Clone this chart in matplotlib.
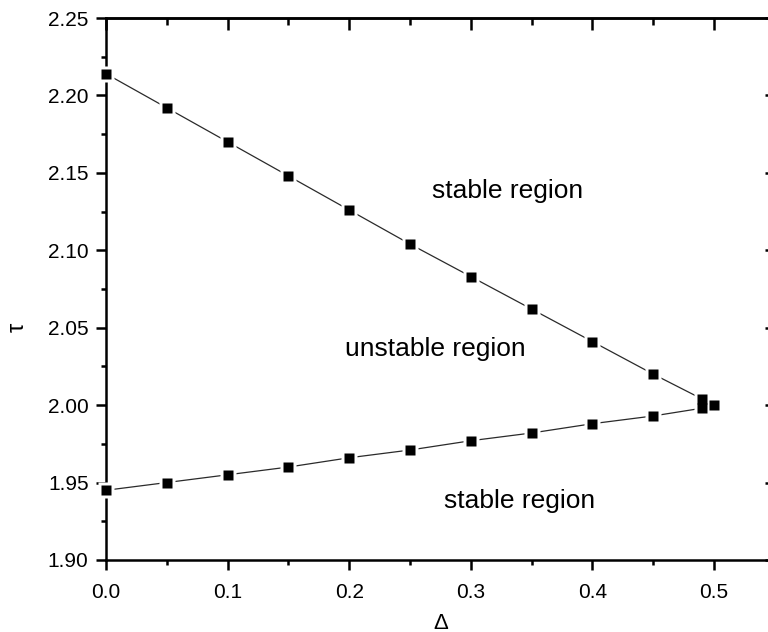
import numpy as np
import matplotlib
matplotlib.use('Agg')
import matplotlib.pyplot as plt
from matplotlib.ticker import MultipleLocator, FormatStrFormatter

plt.rcParams['font.family'] = ['Liberation Sans', 'DejaVu Sans']

# upper boundary (stable above / unstable below)
delta_up = [0.0, 0.05, 0.10, 0.15, 0.20, 0.25, 0.30, 0.35, 0.40, 0.45, 0.49]
tau_up = [2.214, 2.192, 2.170, 2.148, 2.126, 2.104, 2.083, 2.062, 2.041, 2.020, 2.004]

# lower boundary
delta_low = [0.0, 0.05, 0.10, 0.15, 0.20, 0.25, 0.30, 0.35, 0.40, 0.45, 0.49]
tau_low = [1.945, 1.950, 1.955, 1.960, 1.966, 1.971, 1.977, 1.982, 1.988, 1.993, 1.998]

# end point
delta_end = [0.50]
tau_end = [2.000]

fig = plt.figure(figsize=(7.68, 6.32), dpi=100)
ax = fig.add_axes([0.138, 0.114, 0.871, 0.8575])

for d, t in [(delta_up, tau_up), (delta_low, tau_low)]:
    ax.plot(d, t, color='#2a2a2a', lw=0.9, zorder=2)

# white squares under the markers leave a gap in the line
all_d = delta_up + delta_low + delta_end
all_t = tau_up + tau_low + tau_end
ax.plot(all_d, all_t, ls='none', marker='s', ms=12, mfc='white', mec='none', zorder=3, clip_on=False)
ax.plot(all_d, all_t, ls='none', marker='s', ms=7.4, mfc='black', mec='none', zorder=4, clip_on=False)

ax.text(0.33, 2.138, 'stable region', fontsize=19, ha='center', va='center')
ax.text(0.271, 2.036, 'unstable region', fontsize=19, ha='center', va='center')
ax.text(0.340, 1.938, 'stable region', fontsize=19, ha='center', va='center')

ax.set_xlim(0, 0.55)
ax.set_ylim(1.90, 2.25)
ax.xaxis.set_major_locator(MultipleLocator(0.1))
ax.xaxis.set_minor_locator(MultipleLocator(0.05))
ax.yaxis.set_major_locator(MultipleLocator(0.05))
ax.yaxis.set_minor_locator(MultipleLocator(0.025))
ax.xaxis.set_major_formatter(FormatStrFormatter('%.1f'))
ax.yaxis.set_major_formatter(FormatStrFormatter('%.2f'))

for s in ax.spines.values():
    s.set_linewidth(1.8)

ax.tick_params(which='both', direction='out', width=1.8, labelsize=15)
ax.tick_params(which='major', length=7.5)
ax.tick_params(which='minor', length=3.8)
ax.tick_params(axis='y', which='major', pad=5)
ax.tick_params(axis='x', which='major', pad=9)
ax.tick_params(axis='both', which='both', top=False, right=False)
# inward ticks on top and right
ax2 = ax.secondary_xaxis('top')
ax2.xaxis.set_major_locator(MultipleLocator(0.1))
ax2.xaxis.set_minor_locator(MultipleLocator(0.05))
ax2.tick_params(which='both', direction='in', width=1.8, labeltop=False)
ax2.tick_params(which='major', length=8.5)
ax2.tick_params(which='minor', length=5)
ax3 = ax.secondary_yaxis('right')
ax3.yaxis.set_major_locator(MultipleLocator(0.05))
ax3.yaxis.set_minor_locator(MultipleLocator(0.025))
ax3.tick_params(which='both', direction='in', width=1.8, labelright=False)
ax3.tick_params(which='major', length=7.5)
ax3.tick_params(which='minor', length=3.8)
for a in (ax2, ax3):
    for s in a.spines.values():
        s.set_linewidth(1.8)

ax.set_xlabel('Δ', fontsize=16)
ax.set_ylabel('τ', fontsize=17)
ax.xaxis.set_label_coords(0.5, -0.097)
ax.yaxis.set_label_coords(-0.115, 0.43)

fig.savefig('out.png', dpi=100)
